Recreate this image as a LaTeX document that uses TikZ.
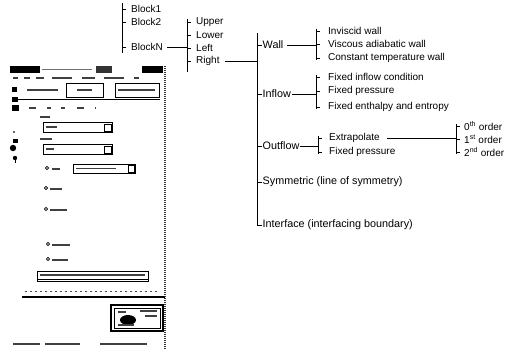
\documentclass[tikz,border=0pt]{standalone}
\usepackage{fontspec}
\setmainfont{Liberation Sans}
\begin{document}
\begin{tikzpicture}[x=1pt,y=-1pt,
  lbl/.style={anchor=west,inner sep=1pt,font=\fontsize{10}{11}\selectfont},
  mlbl/.style={anchor=west,inner sep=0.5pt,font=\fontsize{10.8}{12}\selectfont},
  br/.style={line width=0.75pt,black},
  tk/.style={line width=0.75pt,black},
  gbar/.style={line width=1.6pt,black!75},
  fbar/.style={line width=1.2pt,black!55},
  box/.style={draw=black,line width=0.6pt},
  ]
\useasboundingbox (0,0) rectangle (518,349);

% ---------------- tree ----------------
\node[lbl] (b1) at (130,9) {Block1};
\node[lbl] (b2) at (130,22) {Block2};
\node[lbl] (bN) at (130,47) {BlockN};
\coordinate (v1t) at (122,3);
\coordinate (v1b) at (122,53);
\draw[br] (v1t) -- (v1b);
\foreach \n in {b1,b2,bN} \draw[tk] (\n.west -| v1t) -- ++(4,0);

\node[lbl] (up) at (195,22) {Upper};
\node[lbl] (lo) at (195,35) {Lower};
\node[lbl] (le) at (195,48) {Left};
\node[lbl] (ri) at (195,61) {Right};
\coordinate (v2t) at (187,19);
\coordinate (v2b) at (187,72);
\draw[br] (v2t) -- (v2b);
\foreach \n in {up,lo,le,ri} \draw[tk] (\n.west -| v2t) -- ++(4,0);
\draw[br] ([xshift=3pt]bN.east) -- (bN.east -| v2t);

\coordinate (v3t) at (257,33);
\coordinate (v3b) at (257,226);
\draw[br] (v3t) -- (v3b);
\node[mlbl] (wall) at (262,45) {Wall};
\node[mlbl] (inf) at (262,94) {Inflow};
\node[mlbl] (out) at (262,146) {Outflow};
\node[mlbl] (sym) at (262,182) {Symmetric (line of symmetry)};
\node[mlbl] (itf) at (262,225) {Interface (interfacing boundary)};
\foreach \n in {wall,inf,out,sym,itf} \draw[tk] (\n.west -| v3t) -- (\n.west);
\draw[br] ([xshift=4pt]ri.east) -- (ri.east -| v3t);

% Wall children
\coordinate (v4t) at (316,29);
\coordinate (v4b) at (316,60);
\draw[br] (v4t) -- (v4b);
\node[lbl] (w1) at (327,31) {Inviscid wall};
\node[lbl] (w2) at (327,44) {Viscous adiabatic wall};
\node[lbl] (w3) at (327,58) {Constant temperature wall};
\foreach \n in {w1,w2,w3} \draw[tk] (\n.west -| v4t) -- ++(4,0);
\draw[br] ([xshift=3pt]wall.east) -- (wall.east -| v4t);

% Inflow children
\coordinate (v5t) at (316,75);
\coordinate (v5b) at (316,109);
\draw[br] (v5t) -- (v5b);
\node[lbl] (i1) at (327,77) {Fixed inflow condition};
\node[lbl] (i2) at (327,91) {Fixed pressure};
\node[lbl] (i3) at (327,107) {Fixed enthalpy and entropy};
\foreach \n in {i1,i2,i3} \draw[tk] (\n.west -| v5t) -- ++(4,0);
\draw[br] (inf.east) -- (inf.east -| v5t);

% Outflow children
\coordinate (v6t) at (318,136);
\coordinate (v6b) at (318,154);
\draw[br] (v6t) -- (v6b);
\node[lbl] (o1) at (328,138) {Extrapolate};
\node[lbl] (o2) at (328,152) {Fixed pressure};
\foreach \n in {o1,o2} \draw[tk] (\n.west -| v6t) -- ++(4,0);
\draw[br] (out.east) -- (out.east -| v6t);

% Extrapolate orders
\coordinate (v7t) at (456,124);
\coordinate (v7b) at (456,154);
\draw[br] (v7t) -- (v7b);
\node[lbl] (e0) at (463,126) {0\textsuperscript{th} order};
\node[lbl] (e1) at (463,139) {1\textsuperscript{st} order};
\node[lbl] (e2) at (463,152) {2\textsuperscript{nd} order};
\foreach \n in {e0,e1,e2} \draw[tk] (\n.west -| v7t) -- ++(4,0);
\draw[br] ([xshift=6pt]o1.east) -- (o1.east -| v7t);

% ---------------- screenshot (schematic) ----------------
% right border
\draw[line width=1.4pt,dash pattern=on 1.2pt off 0.8pt,black!80] (165,66) -- (165,349);
% title bar
\fill[black] (10,66) rectangle (40,73);
\fill[black!80] (96,66) rectangle (112,73);
\fill[black] (142,66) rectangle (163,73);
\draw[fbar] (42,69.5) -- (92,69.5);
% menu row
\foreach \a/\b in {13/18,24/30,36/44,52/72,82/95,104/124,134/139}
  \draw[gbar] (\a,78) -- (\b,78);
% buttons
\draw[gbar] (27,90) -- (58,90);
\draw[box] (66,83) rectangle (103,97);
\draw[gbar] (77,90) -- (92,90);
\draw[box] (115,83) rectangle (159,97);
\draw[gbar] (118,90) -- (155,90);
\draw[line width=0.6pt] (12,99) -- (160,99);
% left icons
\fill[black] (12,87) rectangle (17,92);
\fill[black] (12,97) rectangle (18,102);
\fill[black] (12,105) rectangle (19,111);
\fill[black!60] (13,131) rectangle (15,133);
\fill[black] (13,139) rectangle (18,143);
\fill[black] (13,148) circle (3.2);
\fill[black] (15,158) circle (2.2);
\draw[line width=0.9pt] (15,159) -- (15,163);
% tabs row
\foreach \a/\b in {29/36,47/51,61/65,77/84,95/96}
  \draw[gbar] (\a,108) -- (\b,108);
% block
\draw[gbar] (40,117) -- (50,117);
\draw[box] (43,122) rectangle (112,132);
\draw[gbar] (46,127) -- (57,127);
\draw[box] (104,124) rectangle (111,131);
% boundary
\draw[gbar] (40,139) -- (52,139);
\draw[box] (43,144) rectangle (112,154);
\draw[gbar] (46,149) -- (54,149);
\draw[box] (104,146) rectangle (111,153);
% radio rows
\draw[line width=0.8pt] (47,168) circle (1.6);
\draw[gbar] (52,169) -- (60,169);
\draw[box] (73,164) rectangle (135,173);
\draw[gbar] (76,168.5) -- (116,168.5);
\draw[box] (128,165) rectangle (134,172);
\draw[line width=0.8pt] (46,188) circle (1.6);
\draw[gbar] (50,189) -- (62,189);
\draw[line width=0.8pt] (46,209) circle (1.6);
\draw[gbar] (50,210) -- (67,210);
\draw[line width=0.8pt] (48,244) circle (1.6);
\draw[gbar] (52,245) -- (70,245);
\draw[line width=0.8pt] (48,259) circle (1.6);
\draw[gbar] (52,260) -- (68,260);
% wide button
\draw[box] (37,271) rectangle (148,281);
\draw[gbar] (40,275) -- (145,275);
\draw[line width=0.5pt] (37,279) -- (148,279);
% separators
\draw[line width=0.8pt,dash pattern=on 2pt off 3pt,black!70] (25,291) -- (160,291);
\draw[line width=1.2pt] (22,297) -- (165,297);
% image box
\draw[line width=1.5pt] (111,305) rectangle (163,331);
\draw[line width=0.6pt] (114,308) rectangle (160,328);
\fill[black] (128,320) ellipse (8 and 5);
\draw[gbar] (118,312) -- (126,312);
\draw[gbar] (140,311) -- (157,311);
\draw[gbar] (145,316) -- (157,316);
\draw[gbar] (118,325) -- (134,325);
% status bar
\draw[gbar] (13,344) -- (40,344);
\draw[gbar] (45,344) -- (80,344);
\draw[gbar] (100,344) -- (147,344);
\end{tikzpicture}
\end{document}
